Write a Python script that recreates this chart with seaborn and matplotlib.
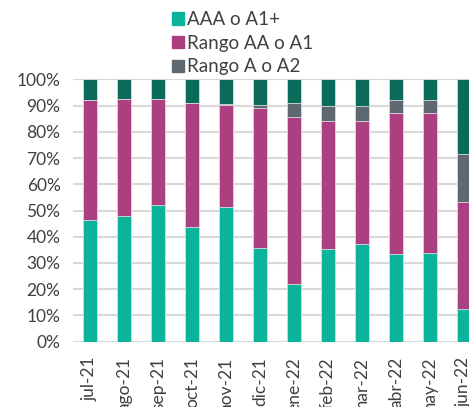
import numpy as np
import pandas as pd
import seaborn as sns
import matplotlib.pyplot as plt
from matplotlib.patches import Patch
from matplotlib.ticker import FuncFormatter

# datos (porcentaje de cada rango)
meses = ['jul-21', 'ago-21', 'sep-21', 'oct-21', 'nov-21', 'dic-21',
         'ene-22', 'feb-22', 'mar-22', 'abr-22', 'may-22', 'jun-22']
aaa = [46.3, 47.9, 52.1, 43.7, 51.3, 35.6, 21.9, 35.3, 37.4, 33.3, 33.9, 12.6]
rango_aa = [45.7, 44.5, 40.3, 47.1, 38.9, 53.3, 63.6, 48.7, 46.8, 53.7, 53.4, 40.5]
rango_a = [0.0, 0.0, 0.0, 0.0, 0.3, 1.3, 5.3, 5.8, 5.7, 5.0, 4.8, 18.3]
otros = [8.0, 7.6, 7.6, 9.2, 9.5, 9.8, 9.2, 10.2, 10.1, 8.0, 7.9, 28.6]

colores = ['#0bb39b', '#ac3f80', '#5d6870', '#0a6b5a']
nombres = ['AAA o A1+', 'Rango AA o A1', 'Rango A o A2']

df = pd.DataFrame({'mes': meses, 'aaa': aaa, 'aa': rango_aa, 'a': rango_a, 'otros': otros})
df['c1'] = df['aaa']
df['c2'] = df['c1'] + df['aa']
df['c3'] = df['c2'] + df['a']
df['c4'] = df['c3'] + df['otros']

sns.set_style('white')
plt.rcParams['font.family'] = ['Lato', 'DejaVu Sans']

fig = plt.figure(figsize=(4.69, 4.07), dpi=100)
ax = fig.add_axes([73 / 469, 0.1604, 408 / 469, 0.6447])

# barras apiladas: se dibuja el acumulado de mayor a menor
for col, color in zip(['c4', 'c3', 'c2', 'c1'], colores[::-1]):
    sns.barplot(data=df, x='mes', y=col, color=color, width=0.41,
                edgecolor='#dddddd', linewidth=0.6, saturation=1, ax=ax)

ax.set_ylim(0, 100)
ax.set_xlim(-0.5, 11.5)
ax.set_yticks(np.arange(0, 101, 10))
ax.yaxis.set_major_formatter(FuncFormatter(lambda v, p: f'{v:.0f}%'))
ax.grid(axis='y', color='#d9d9d9', linewidth=1.5)
ax.set_axisbelow(True)
for s in ax.spines.values():
    s.set_visible(False)
ax.set_xlabel('')
ax.set_ylabel('')
ax.tick_params(axis='y', length=0, labelsize=12.5, labelcolor='#404040', pad=9)
ax.tick_params(axis='x', length=0, labelsize=12.5, labelcolor='#404040', pad=11,
               labelrotation=90)

handles = [Patch(color=c) for c in colores[:3]]
fig.legend(handles, nombres, loc='upper left', bbox_to_anchor=(157 / 469, 1.01),
           frameon=False, fontsize=13.5, labelcolor='#404040', handlelength=0.65,
           handleheight=0.65, handletextpad=0.15, labelspacing=0.36, borderpad=0.3)

fig.savefig('out.png', dpi=100)
